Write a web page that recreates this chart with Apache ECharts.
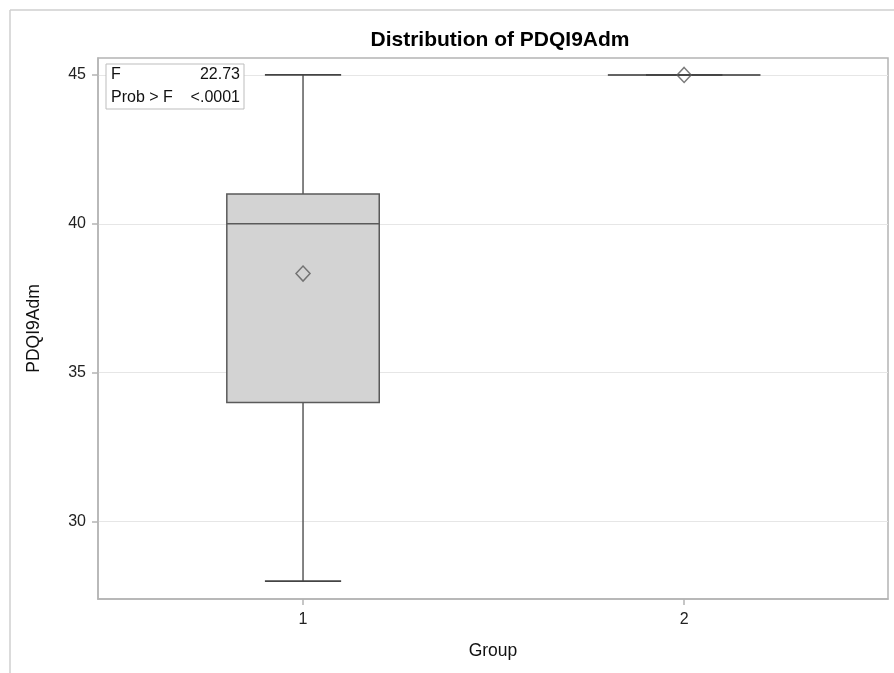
<!DOCTYPE html>
<html>
<head>
<meta charset="utf-8">
<script src="https://cdn.jsdelivr.net/npm/echarts@6/dist/echarts.min.js"></script>
<style>html,body{margin:0;padding:0;background:#fff}#c{width:894px;height:673px}</style>
</head>
<body>
<div id="c"></div>
<script>
// ---- data ----
const groups = [1, 2];
const minVals = [28, 45];
const q1Vals = [34, 45];
const medianVals = [40, 45];
const q3Vals = [41, 45];
const maxVals = [45, 45];
const meanVals = [38.33, 45];
const yTicks = [30, 35, 40, 45];
const statLabels = ['F', 'Prob > F'];
const statValues = ['22.73', '<.0001'];

const FONT = 'Liberation Sans, Arial, sans-serif';
const boxData = groups.map((g, i) => [g, minVals[i], q1Vals[i], medianVals[i], q3Vals[i], maxVals[i]]);
const meanData = groups.map((g, i) => [g, meanVals[i]]);

const BOX_HALF = 0.2, CAP_HALF = 0.1;
const stroke = '#5a5a5a';

const chart = echarts.init(document.getElementById('c'), null, {renderer: 'canvas'});
chart.setOption({
  backgroundColor: '#fff',
  animation: false,
  title: {
    text: 'Distribution of PDQI9Adm',
    left: 495, top: 25, textAlign: 'center',
    textStyle: {fontFamily: FONT, fontSize: 21, fontWeight: 'bold', color: '#000'}
  },
  grid: {left: 98, right: 6, top: 58, bottom: 74, show: true, borderColor: '#b4b4b4', borderWidth: 1.5},
  xAxis: {
    type: 'value', min: 0.462, max: 2.535,
    name: 'Group', nameLocation: 'middle', nameGap: 43,
    nameTextStyle: {fontFamily: FONT, fontSize: 17.5, color: '#111'},
    axisLine: {show: true, lineStyle: {color: '#b4b4b4', width: 1.5}},
    axisTick: {show: true, length: 6, customValues: groups, lineStyle: {color: '#b4b4b4', width: 1.5}},
    axisLabel: {customValues: groups, fontFamily: FONT, fontSize: 16, color: '#222', margin: 13},
    splitLine: {show: false}
  },
  yAxis: {
    type: 'value', min: 27.4, max: 45.57,
    name: 'PDQI9Adm', nameLocation: 'middle', nameGap: 55, nameRotate: 90,
    nameTextStyle: {fontFamily: FONT, fontSize: 17.5, color: '#111'},
    axisLine: {show: true, lineStyle: {color: '#b4b4b4', width: 1.5}},
    axisTick: {show: true, length: 6, customValues: yTicks, lineStyle: {color: '#b4b4b4', width: 1.5}},
    axisLabel: {customValues: yTicks, fontFamily: FONT, fontSize: 16, color: '#222', margin: 12},
    splitLine: {show: true, lineStyle: {color: '#e6e6e6', width: 1}}
  },
  graphic: [
    {type: 'line', shape: {x1: 10, y1: 10, x2: 894, y2: 10}, style: {stroke: '#cfcfcf', lineWidth: 1.5}, silent: true},
    {type: 'line', shape: {x1: 10, y1: 10, x2: 10, y2: 673}, style: {stroke: '#cfcfcf', lineWidth: 1.5}, silent: true},
    {type: 'rect', shape: {x: 106, y: 64, width: 138, height: 45}, style: {fill: '#fff', stroke: '#bdbdbd', lineWidth: 1}, z: 100},
    {type: 'text', x: 111, y: 75, style: {text: statLabels[0], font: '16px ' + FONT, fill: '#111', textVerticalAlign: 'middle'}, z: 101},
    {type: 'text', x: 240, y: 75, style: {text: statValues[0], font: '16px ' + FONT, fill: '#111', textAlign: 'right', textVerticalAlign: 'middle'}, z: 101},
    {type: 'text', x: 111, y: 98, style: {text: statLabels[1], font: '16px ' + FONT, fill: '#111', textVerticalAlign: 'middle'}, z: 101},
    {type: 'text', x: 240, y: 98, style: {text: statValues[1], font: '16px ' + FONT, fill: '#111', textAlign: 'right', textVerticalAlign: 'middle'}, z: 101}
  ],
  series: [
    {
      type: 'custom',
      data: boxData,
      renderItem: function (params, api) {
        const x = api.value(0);
        const mn = api.coord([x, api.value(1)]);
        const q1 = api.coord([x, api.value(2)]);
        const md = api.coord([x, api.value(3)]);
        const q3 = api.coord([x, api.value(4)]);
        const mx = api.coord([x, api.value(5)]);
        const bl = api.coord([x - BOX_HALF, 0])[0];
        const br = api.coord([x + BOX_HALF, 0])[0];
        const cl = api.coord([x - CAP_HALF, 0])[0];
        const cr = api.coord([x + CAP_HALF, 0])[0];
        const ls = {stroke: stroke, lineWidth: 1.5};
        return {
          type: 'group',
          children: [
            {type: 'line', shape: {x1: mn[0], y1: mn[1], x2: q1[0], y2: q1[1]}, style: ls},
            {type: 'line', shape: {x1: mx[0], y1: mx[1], x2: q3[0], y2: q3[1]}, style: ls},
            {type: 'rect', shape: {x: bl, y: q3[1], width: br - bl, height: q1[1] - q3[1]}, style: {fill: '#d3d3d3', stroke: stroke, lineWidth: 1.5}},
            {type: 'line', shape: {x1: bl, y1: md[1], x2: br, y2: md[1]}, style: ls},
            {type: 'line', shape: {x1: cl, y1: mn[1], x2: cr, y2: mn[1]}, style: {stroke: '#444', lineWidth: 1.8}},
            {type: 'line', shape: {x1: cl, y1: mx[1], x2: cr, y2: mx[1]}, style: {stroke: '#444', lineWidth: 1.8}}
          ]
        };
      },
      z: 2
    },
    {
      type: 'scatter',
      data: meanData,
      symbol: 'diamond',
      symbolSize: [14, 15],
      itemStyle: {color: 'rgba(0,0,0,0)', borderColor: stroke, borderWidth: 1.5},
      z: 3
    }
  ]
});
</script>
</body>
</html>
